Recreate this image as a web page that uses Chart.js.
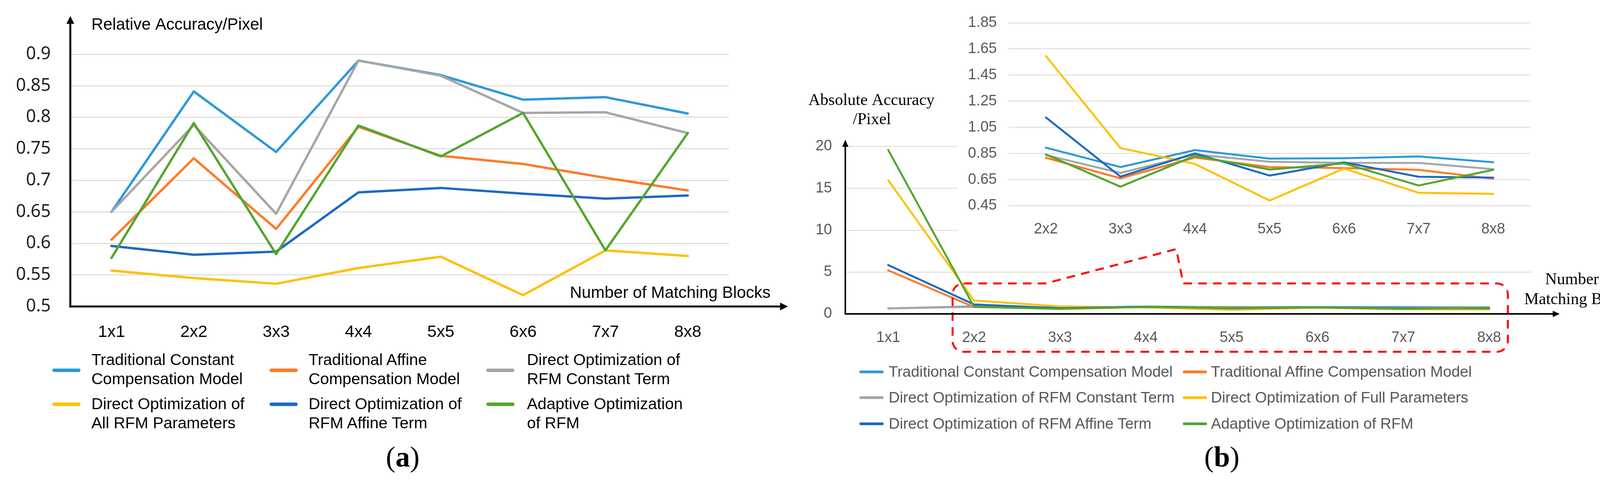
<!DOCTYPE html>
<html>
<head>
<meta charset="utf-8">
<script src="https://cdn.jsdelivr.net/npm/chart.js@4.4.1/dist/chart.umd.min.js"></script>
<style>
html,body{margin:0;padding:0;background:#fff;}
#page{position:relative;width:4220px;height:1232px;overflow:hidden;background:#fff;}
.box{position:absolute;}
canvas{display:block;}
.sw{position:absolute;border-radius:5px;}
.txt{position:absolute;white-space:nowrap;}
.cap{position:absolute;font-family:"Liberation Serif","Times New Roman",serif;font-size:74px;line-height:1;transform:translate(-50%,-50%);color:#000;}
</style>
</head>
<body>
<div id="page">
  <div class="box" style="left:0;top:0;width:2100px;height:900px"><canvas id="cA" width="2100" height="900"></canvas></div>
  <div class="box" style="left:1960px;top:0;width:2260px;height:920px"><canvas id="cB" width="2260" height="920"></canvas></div>
  <div class="box" style="left:2452px;top:0;width:1480px;height:630px"><canvas id="cI" width="1480" height="630" style="background:#fff"></canvas></div>
  <div id="legA"></div>
  <div id="legB"></div>
  <div class="cap" style="left:1031px;top:1170px">(<b>a</b>)</div>
  <div class="cap" style="left:3128px;top:1170px">(<b>b</b>)</div>
</div>
<script>
// ---------- DATA ----------
const categories = ['1x1','2x2','3x3','4x4','5x5','6x6','7x7','8x8'];
const insetCategories = ['2x2','3x3','4x4','5x5','6x6','7x7','8x8'];

const seriesNamesA = [
  ['Traditional Constant','Compensation Model'],
  ['Traditional Affine','Compensation Model'],
  ['Direct Optimization of','RFM Constant Term'],
  ['Direct Optimization of','All RFM Parameters'],
  ['Direct Optimization of','RFM Affine Term'],
  ['Adaptive Optimization','of RFM']
];
const seriesNamesB = [
  'Traditional Constant Compensation Model',
  'Traditional Affine Compensation Model',
  'Direct Optimization of RFM Constant Term',
  'Direct Optimization of Full Parameters',
  'Direct Optimization of RFM Affine Term',
  'Adaptive Optimization of RFM'
];
const seriesColors = ['#2B9AD8','#FF7A26','#A6A6A6','#FFC000','#1D69C4','#52A62F'];

// Panel (a): relative accuracy / pixel
const relConstComp    = [0.650,0.841,0.745,0.890,0.867,0.828,0.832,0.806];
const relAffineComp   = [0.606,0.735,0.623,0.785,0.739,0.726,0.704,0.684];
const relDirectConst  = [0.650,0.788,0.647,0.890,0.866,0.807,0.808,0.775];
const relDirectAll    = [0.557,0.545,0.536,0.561,0.579,0.518,0.589,0.580];
const relDirectAffine = [0.596,0.582,0.587,0.681,0.688,0.679,0.671,0.676];
const relAdaptive     = [0.577,0.791,0.583,0.787,0.738,0.807,0.589,0.775];

// Panel (b): absolute accuracy / pixel
const absConstComp    = [0.65,0.895,0.746,0.876,0.811,0.814,0.827,0.783];
const absAffineComp   = [5.20,0.817,0.660,0.819,0.746,0.738,0.725,0.657];
const absDirectConst  = [0.66,0.838,0.701,0.843,0.787,0.778,0.778,0.730];
const absDirectFull   = [15.96,1.596,0.892,0.770,0.490,0.735,0.549,0.541];
const absDirectAffine = [5.83,1.126,0.673,0.851,0.681,0.782,0.672,0.665];
const absAdaptive     = [19.57,0.843,0.596,0.832,0.727,0.774,0.605,0.725];

// Tick labels
const yTickValuesA = [0.5,0.55,0.6,0.65,0.7,0.75,0.8,0.85,0.9];
const yTickLabelsA = ['0.5','0.55','0.6','0.65','0.7','0.75','0.8','0.85','0.9'];
const yTickValuesB = [0,5,10,15,20];
const yTickLabelsB = ['0','5','10','15','20'];
const yTickValuesI = [0.45,0.65,0.85,1.05,1.25,1.45,1.65,1.85];
const yTickLabelsI = ['0.45','0.65','0.85','1.05','1.25','1.45','1.65','1.85'];

const titleA = 'Relative Accuracy/Pixel';
const xTitleA = 'Number of Matching Blocks';
const titleB = ['Absolute Accuracy','/Pixel'];
const xTitleB = ['Number of','Matching Blocks'];

// ---------- HELPERS ----------
function makeDatasets(labels, values, lw) {
  return values.map((v, i) => ({
    label: labels[i], data: v,
    borderColor: seriesColors[i], backgroundColor: seriesColors[i],
    borderWidth: lw, pointRadius: 0, pointHoverRadius: 0, tension: 0, fill: false,
    borderCapStyle: 'round', borderJoinStyle: 'round',
    order: values.length - i
  }));
}
function fixedTicks(vals) {
  return s => { s.ticks = vals.map(v => ({ value: v })); };
}
function arrowAxes(ctx, L, B, yTop, xEnd, lw, hl, hw) {
  ctx.save();
  ctx.strokeStyle = '#000'; ctx.fillStyle = '#000'; ctx.lineWidth = lw; ctx.lineCap = 'butt';
  ctx.beginPath(); ctx.moveTo(L, B + lw / 2); ctx.lineTo(L, yTop + hl - 1); ctx.stroke();
  ctx.beginPath(); ctx.moveTo(L - lw / 2, B); ctx.lineTo(xEnd - hl + 1, B); ctx.stroke();
  ctx.beginPath(); ctx.moveTo(L, yTop); ctx.lineTo(L - hw, yTop + hl); ctx.lineTo(L + hw, yTop + hl); ctx.closePath(); ctx.fill();
  ctx.beginPath(); ctx.moveTo(xEnd, B); ctx.lineTo(xEnd - hl, B - hw); ctx.lineTo(xEnd - hl, B + hw); ctx.closePath(); ctx.fill();
  ctx.restore();
}
const noLegend = { legend: { display: false }, tooltip: { enabled: false } };

// ---------- CHART (a) ----------
const plugA = {
  id: 'plugA',
  afterDraw(chart) {
    const ctx = chart.ctx, a = chart.chartArea;
    arrowAxes(ctx, a.left, a.bottom, 41, 2017, 5, 20, 10);
    ctx.save();
    ctx.fillStyle = '#000';
    ctx.font = '42px "Liberation Sans", Arial, sans-serif';
    ctx.textBaseline = 'middle'; ctx.textAlign = 'left';
    ctx.fillText(titleA, a.left + 54, 64);
    ctx.fillText(xTitleA, 1459, a.bottom - 34);
    ctx.restore();
  }
};
const chartA = new Chart(document.getElementById('cA'), {
  type: 'line',
  data: { labels: categories,
    datasets: makeDatasets(seriesNamesA.map(n => n.join(' ')),
      [relConstComp, relAffineComp, relDirectConst, relDirectAll, relDirectAffine, relAdaptive], 6) },
  options: {
    responsive: false, devicePixelRatio: 1, animation: false,
    layout: { padding: { left: 0, right: 234, top: 139, bottom: 0 } },
    plugins: noLegend,
    scales: {
      x: { type: 'category', offset: true,
        grid: { display: false, drawTicks: false }, border: { display: false },
        ticks: { autoSkip: false, maxRotation: 0, padding: 40, color: '#000',
          font: { family: '"Liberation Sans", Arial, sans-serif', size: 43 } },
        afterFit: s => { s.height = 115; } },
      y: { min: 0.5, max: 0.9,
        grid: { color: '#D8D0D0', lineWidth: 2, drawTicks: false }, border: { display: false },
        afterBuildTicks: fixedTicks(yTickValuesA),
        ticks: { padding: 50, color: '#231F20', font: { family: '"Noto Sans", sans-serif', size: 45 },
          callback: v => yTickLabelsA[yTickValuesA.indexOf(v)] },
        afterFit: s => { s.width = 180; } }
    }
  },
  plugins: [plugA]
});

// ---------- CHART (b) main ----------
const plugB = {
  id: 'plugB',
  afterDraw(chart) {
    const ctx = chart.ctx, a = chart.chartArea;
    const xs = chart.scales.x;
    // callout box
    const L = xs.getPixelForValue(1) - 55, R = xs.getPixelForValue(7) + 48;
    const T = a.bottom - 78, Bt = a.bottom + 97, r = 28;
    const p1 = xs.getPixelForValue(1) + 183, pk = xs.getPixelForValue(3) + 78, p2 = xs.getPixelForValue(3) + 96;
    ctx.save();
    ctx.strokeStyle = '#FF0000'; ctx.lineWidth = 5; ctx.setLineDash([22, 16]);
    ctx.beginPath();
    ctx.moveTo(L + r, T);
    ctx.lineTo(p1, T);
    ctx.lineTo(pk, T - 88);
    ctx.lineTo(p2, T);
    ctx.lineTo(R - r, T);
    ctx.arcTo(R, T, R, T + r, r);
    ctx.lineTo(R, Bt - r);
    ctx.arcTo(R, Bt, R - r, Bt, r);
    ctx.lineTo(L + r, Bt);
    ctx.arcTo(L, Bt, L, Bt - r, r);
    ctx.lineTo(L, T + r);
    ctx.arcTo(L, T, L + r, T, r);
    ctx.stroke();
    ctx.restore();
    arrowAxes(ctx, a.left, a.bottom, 358, 2033, 4, 18, 8);
    ctx.save();
    ctx.fillStyle = '#000';
    ctx.font = '42px "Liberation Serif", "Times New Roman", serif';
    ctx.textBaseline = 'middle'; ctx.textAlign = 'center';
    ctx.fillText(titleB[0], a.left + 67, 258);
    ctx.fillText(titleB[1], a.left + 68, 307);
    ctx.fillText(xTitleB[0], 2087, 717);
    ctx.fillText(xTitleB[1], 2086, 768);
    ctx.restore();
  }
};
const chartB = new Chart(document.getElementById('cB'), {
  type: 'line',
  data: { labels: categories,
    datasets: makeDatasets(seriesNamesB,
      [absConstComp, absAffineComp, absDirectConst, absDirectFull, absDirectAffine, absAdaptive], 5) },
  options: {
    responsive: false, devicePixelRatio: 1, animation: false,
    layout: { padding: { left: 0, right: 298, top: 375, bottom: 0 } },
    plugins: noLegend,
    scales: {
      x: { type: 'category', offset: true,
        grid: { display: false, drawTicks: false }, border: { display: false },
        ticks: { autoSkip: false, maxRotation: 0, padding: 39, color: '#595959',
          font: { family: '"Liberation Sans", Arial, sans-serif', size: 38 } },
        afterFit: s => { s.height = 116; } },
      y: { min: 0, max: 20,
        grid: { color: '#D9D9D9', lineWidth: 2, drawTicks: false }, border: { display: false },
        afterBuildTicks: fixedTicks(yTickValuesB),
        ticks: { padding: 34, color: '#595959', font: { family: '"Liberation Sans", Arial, sans-serif', size: 38 },
          callback: v => yTickLabelsB[yTickValuesB.indexOf(v)] },
        afterFit: s => { s.width = 204; } }
    }
  },
  plugins: [plugB]
});

// ---------- CHART (b) inset ----------
const insetSeries = [absConstComp, absAffineComp, absDirectConst, absDirectFull, absDirectAffine, absAdaptive]
  .map(s => s.slice(1));
const chartI = new Chart(document.getElementById('cI'), {
  type: 'line',
  data: { labels: insetCategories, datasets: makeDatasets(seriesNamesB, insetSeries, 5) },
  options: {
    responsive: false, devicePixelRatio: 1, animation: false,
    layout: { padding: { left: 0, right: 14, top: 58.5, bottom: 0 } },
    plugins: noLegend,
    scales: {
      x: { type: 'category', offset: true,
        grid: { display: false, drawTicks: false }, border: { display: false },
        ticks: { autoSkip: false, maxRotation: 0, padding: 38, color: '#595959',
          font: { family: '"Liberation Sans", Arial, sans-serif', size: 38 } },
        afterFit: s => { s.height = 103; } },
      y: { min: 0.45, max: 1.85,
        grid: { color: '#D9D9D9', lineWidth: 2, drawTicks: false }, border: { display: false },
        afterBuildTicks: fixedTicks(yTickValuesI),
        ticks: { padding: 30, color: '#595959', font: { family: '"Liberation Sans", Arial, sans-serif', size: 38 },
          callback: v => yTickLabelsI[yTickValuesI.indexOf(v)] },
        afterFit: s => { s.width = 130; } }
    }
  }
});

// ---------- LEGENDS (built from the chart datasets) ----------
function buildLegendA() {
  const host = document.getElementById('legA');
  const swX = [134, 690, 1245], txX = [234, 790, 1349];
  const rowTop = [897, 1010], swY = [948, 1035];
  chartA.data.datasets.forEach((d, i) => {
    const col = i % 3, row = Math.floor(i / 3);
    const sw = document.createElement('div');
    sw.className = 'sw';
    sw.style.cssText = `left:${swX[col]}px;top:${swY[row] - 4.5}px;width:72px;height:9px;background:${d.borderColor}`;
    host.appendChild(sw);
    const t = document.createElement('div');
    t.className = 'txt';
    t.style.cssText = `left:${txX[col]}px;top:${rowTop[row]}px;font:41px/49px "Liberation Sans",Arial,sans-serif;color:#000`;
    t.innerHTML = seriesNamesA[i].join('<br>');
    host.appendChild(t);
  });
}
function buildLegendB() {
  const host = document.getElementById('legB');
  const swX = [2200, 3028], txX = [2275, 3100];
  const rowY = [952, 1018, 1085];
  chartB.data.datasets.forEach((d, i) => {
    const col = i % 2, row = Math.floor(i / 2);
    const sw = document.createElement('div');
    sw.className = 'sw';
    sw.style.cssText = `left:${swX[col]}px;top:${rowY[row] - 3.5}px;width:62px;height:7px;background:${d.borderColor}`;
    host.appendChild(sw);
    const t = document.createElement('div');
    t.className = 'txt';
    t.style.cssText = `left:${txX[col]}px;top:${rowY[row] - 24}px;font:39px/48px "Liberation Sans",Arial,sans-serif;color:#595959`;
    t.textContent = d.label;
    host.appendChild(t);
  });
}
buildLegendA();
buildLegendB();
</script>
</body>
</html>
